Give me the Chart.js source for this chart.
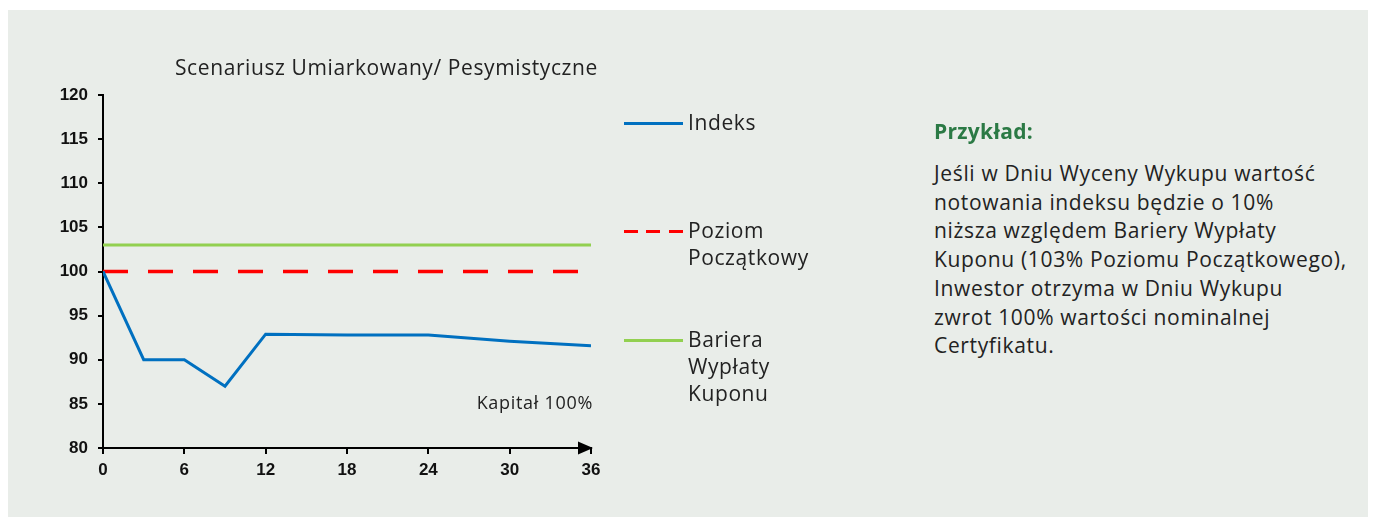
<!DOCTYPE html>
<html lang="pl">
<head>
<meta charset="utf-8">
<script src="https://cdn.jsdelivr.net/npm/chart.js@4"></script>
<style>
  html, body { margin: 0; padding: 0; background: #ffffff; width: 1376px; height: 519px; overflow: hidden; }
  #panel { position: absolute; left: 8px; top: 10px; width: 1360px; height: 507px; background: #E9EDE9; }
  #chartBox { position: absolute; left: 0; top: 0; width: 640px; height: 519px; }
  .txt { position: absolute; font-family: "Open Sans", sans-serif; color: #222; white-space: nowrap; }
  #title { left: 175px; top: 53px; font-size: 21px; line-height: 28px; letter-spacing: 0.6px; }
  #kapital { right: calc(1376px - 593px); top: 390px; font-size: 18px; line-height: 24px; letter-spacing: 0.7px; }
  .legLine { position: absolute; left: 624px; width: 59px; height: 3px; }
  .legText { left: 688px; font-size: 21px; line-height: 27px; letter-spacing: 0.6px; }
  #przyklad { left: 934px; top: 117px; font-size: 21px; line-height: 28px; font-weight: 700; color: #2B7A45; letter-spacing: 0.3px; }
  #para { left: 934px; top: 159px; font-size: 21px; line-height: 28.7px; letter-spacing: 0.65px; }
</style>
</head>
<body>
<div id="panel"></div>
<div id="chartBox"><canvas id="c" width="640" height="519"></canvas></div>

<div id="title" class="txt">Scenariusz Umiarkowany/ Pesymistyczne</div>
<div id="kapital" class="txt">Kapitał 100%</div>

<div class="legLine" style="top:122px;background:#0070C0;"></div>
<div class="txt legText" style="top:109px;">Indeks</div>
<div class="legLine" style="top:230px;background:repeating-linear-gradient(to right,#FF0000 0 14px,transparent 14px 22.5px);"></div>
<div class="txt legText" style="top:217px;">Poziom<br>Początkowy</div>
<div class="legLine" style="top:339px;background:#92D050;"></div>
<div class="txt legText" style="top:326px;">Bariera<br>Wypłaty<br>Kuponu</div>

<div id="przyklad" class="txt">Przykład:</div>
<div id="para" class="txt">Jeśli w Dniu Wyceny Wykupu wartość<br>notowania indeksu będzie o 10%<br>niższa względem Bariery Wypłaty<br>Kuponu (103% Poziomu Początkowego),<br>Inwestor otrzyma w Dniu Wykupu<br>zwrot 100% wartości nominalnej<br>Certyfikatu.</div>

<script>
// ---- data ----
const months = [0, 3, 6, 9, 12, 18, 24, 30, 36];
const indeks = [100, 90, 90, 87, 92.9, 92.8, 92.8, 92.1, 91.6];
const levelMonths = [0, 36];
const poziomPoczatkowy = [100, 100];
const barieraKuponu = [103, 103];
const seriesNames = ["Indeks", "Poziom Początkowy", "Bariera Wypłaty Kuponu"];
const xTicks = [0, 6, 12, 18, 24, 30, 36];
const yTicks = [80, 85, 90, 95, 100, 105, 110, 115, 120];

const toPts = (xs, ys) => xs.map((x, i) => ({ x: x, y: ys[i] }));

const arrowPlugin = {
  id: 'axisArrow',
  afterDraw(chart) {
    const xs = chart.scales.x, ys = chart.scales.y;
    const ctx = chart.ctx;
    const tip = xs.getPixelForValue(xs.max) + 2;
    const y0 = ys.getPixelForValue(ys.min);
    ctx.save();
    ctx.fillStyle = '#000';
    ctx.beginPath();
    ctx.moveTo(tip, y0);
    ctx.lineTo(tip - 15, y0 - 6.5);
    ctx.lineTo(tip - 15, y0 + 6.5);
    ctx.closePath();
    ctx.fill();
    ctx.restore();
  }
};

const tickFont = { family: '"Liberation Sans", Arial, sans-serif', size: 17, weight: 'bold' };

new Chart(document.getElementById('c'), {
  type: 'line',
  data: {
    datasets: [
      { label: seriesNames[0], data: toPts(months, indeks), borderColor: '#0070C0', borderWidth: 3,
        pointRadius: 0, tension: 0, fill: false },
      { label: seriesNames[1], data: toPts(levelMonths, poziomPoczatkowy), borderColor: '#FF0000', borderWidth: 3.5,
        borderDash: [25, 20], pointRadius: 0, fill: false },
      { label: seriesNames[2], data: toPts(levelMonths, barieraKuponu), borderColor: '#92D050', borderWidth: 3,
        pointRadius: 0, fill: false }
    ]
  },
  options: {
    responsive: false,
    animation: false,
    events: [],
    layout: { padding: { top: 95, right: 49, left: 0, bottom: 0 } },
    plugins: { legend: { display: false }, tooltip: { enabled: false }, title: { display: false } },
    scales: {
      x: {
        type: 'linear', min: 0, max: 36,
        afterBuildTicks: (s) => { s.ticks = xTicks.map(v => ({ value: v })); },
        afterFit: (s) => { s.height = 71; },
        ticks: { font: tickFont, color: '#111', padding: 6, maxRotation: 0 },
        grid: { drawOnChartArea: false, drawTicks: true, tickLength: 6, color: '#000', lineWidth: 2 },
        border: { display: true, color: '#000', width: 2 }
      },
      y: {
        type: 'linear', min: 80, max: 120,
        afterBuildTicks: (s) => { s.ticks = yTicks.map(v => ({ value: v })); },
        afterFit: (s) => { s.width = 103; },
        ticks: { font: tickFont, color: '#111', padding: 10 },
        grid: { drawOnChartArea: false, drawTicks: true, tickLength: 5, color: '#000', lineWidth: 2 },
        border: { display: true, color: '#000', width: 2 }
      }
    }
  },
  plugins: [arrowPlugin]
});
</script>
</body>
</html>
